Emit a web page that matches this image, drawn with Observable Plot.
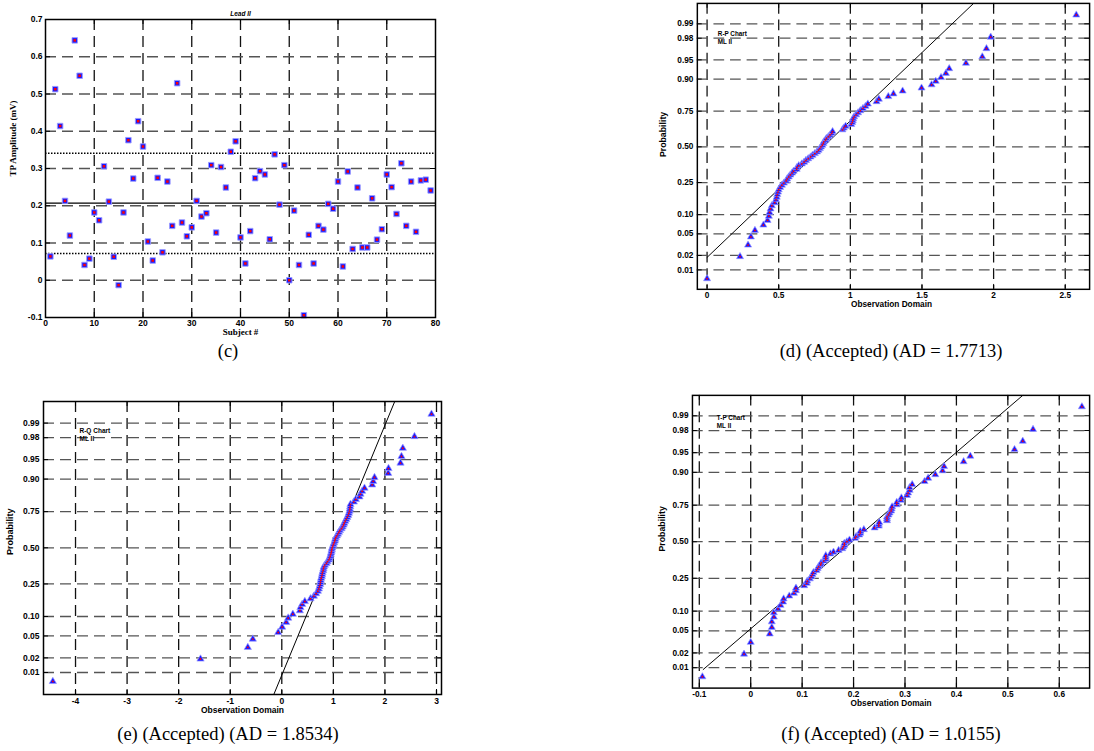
<!DOCTYPE html>
<html><head><meta charset="utf-8">
<script src="https://cdn.jsdelivr.net/npm/d3@7"></script>
<script src="https://cdn.jsdelivr.net/npm/@observablehq/plot@0.6"></script>
<style>
html,body{margin:0;padding:0;background:#fff;overflow:hidden;width:1094px;height:751px}
#root{position:relative;width:1094px;height:751px;overflow:hidden}
.panel{position:absolute}
.cap{position:absolute;font-family:"Liberation Serif","Times New Roman",serif;font-size:18.5px;line-height:19px;color:#000;white-space:nowrap;transform:translateX(-50%)}
</style></head><body><div id="root"></div>
<script>
// ---------- DATA ----------
// Panel (c): T-P amplitude per subject (Lead II)
const subjects = [1,2,3,4,5,6,7,8,9,10,11,12,13,14,15,16,17,18,19,20,21,22,23,24,25,26,27,28,29,30,31,32,33,34,35,36,37,38,39,40,41,42,43,44,45,46,47,48,49,50,51,52,53,54,55,56,57,58,59,60,61,62,63,64,65,66,67,68,69,70,71,72,73,74,75,76,77,78,79];
const tpAmplitude = [0.064,0.513,0.414,0.213,0.120,0.644,0.549,0.041,0.058,0.182,0.161,0.306,0.211,0.063,-0.013,0.182,0.376,0.273,0.427,0.359,0.104,0.053,0.275,0.075,0.265,0.146,0.529,0.155,0.118,0.142,0.213,0.171,0.180,0.309,0.128,0.304,0.249,0.345,0.373,0.115,0.045,0.132,0.274,0.293,0.284,0.110,0.338,0.203,0.309,0.000,0.187,0.041,-0.094,0.122,0.045,0.146,0.136,0.205,0.192,0.265,0.037,0.292,0.084,0.249,0.088,0.088,0.220,0.109,0.137,0.284,0.250,0.178,0.314,0.146,0.265,0.130,0.268,0.270,0.241];
const tpMean = [0.207];
const tpLimits = [0.341, 0.072];
const cXTicks = [0,10,20,30,40,50,60,70,80];
const cYTicks = [-0.1,0,0.1,0.2,0.3,0.4,0.5,0.6,0.7];
const cXGrid = [10,20,30,40,50,60,70];
const cYGrid = [0,0.1,0.2,0.3,0.4,0.5,0.6];

// Panel (d): R-P observations (sorted)
const rpObs = [0.000,0.230,0.286,0.306,0.334,0.393,0.422,0.431,0.436,0.443,0.452,0.472,0.481,0.486,0.490,0.495,0.500,0.510,0.522,0.536,0.552,0.559,0.570,0.581,0.593,0.604,0.625,0.627,0.640,0.661,0.677,0.690,0.706,0.722,0.736,0.752,0.767,0.778,0.787,0.795,0.804,0.811,0.815,0.827,0.833,0.847,0.858,0.870,0.876,0.945,0.954,0.967,1.006,1.013,1.017,1.020,1.026,1.040,1.054,1.070,1.088,1.106,1.122,1.183,1.199,1.265,1.301,1.365,1.497,1.567,1.596,1.633,1.667,1.690,1.807,1.921,1.950,1.980,2.577];
const rpLine = [{x:0, z:-2.09},{x:1.86, z:2.712}];
const dXTicks = [0,0.5,1,1.5,2,2.5];

// Panel (e): R-Q observations (sorted)
const rqObs = [-4.44,-1.576,-0.659,-0.562,-0.070,0.007,0.085,0.124,0.214,0.350,0.362,0.395,0.447,0.557,0.621,0.666,0.699,0.718,0.731,0.744,0.750,0.757,0.763,0.776,0.782,0.789,0.802,0.808,0.815,0.834,0.867,0.886,0.912,0.925,0.938,0.947,0.957,0.964,0.970,0.977,0.990,1.002,1.015,1.028,1.035,1.048,1.067,1.087,1.107,1.126,1.158,1.178,1.197,1.210,1.229,1.249,1.268,1.287,1.300,1.313,1.320,1.326,1.332,1.397,1.436,1.506,1.526,1.558,1.604,1.752,1.772,1.798,2.063,2.069,2.302,2.321,2.347,2.573,2.903];
const rqLine = [{x:-0.155, z:-2.737},{x:2.19, z:2.729}];
const eXTicks = [-4,-3,-2,-1,0,1,2,3];

// Panel (f): T-P observations = tpAmplitude
const tpLine = [{x:-0.0924, z:-2.36},{x:0.529, z:2.703}];
const fXTicks = [-0.1,0,0.1,0.2,0.3,0.4,0.5,0.6];

// Probability axis
const probTickValues = [0.01,0.02,0.05,0.10,0.25,0.50,0.75,0.90,0.95,0.98,0.99];
const probTickLabels = ["0.01","0.02","0.05","0.10","0.25","0.50","0.75","0.90","0.95","0.98","0.99"];

// ---------- HELPERS ----------
function probit(p){
  const a=[-3.969683028665376e+01,2.209460984245205e+02,-2.759285104469687e+02,1.383577518672690e+02,-3.066479806614716e+01,2.506628277459239e+00];
  const b=[-5.447609879822406e+01,1.615858368580409e+02,-1.556989798598866e+02,6.680131188771972e+01,-1.328068155288572e+01];
  const c=[-7.784894002430293e-03,-3.223964580411365e-01,-2.400758277161838e+00,-2.549732539343734e+00,4.374664141464968e+00,2.938163982698783e+00];
  const d=[7.784695709041462e-03,3.224671290700398e-01,2.445134137142996e+00,3.754408661907416e+00];
  const pl=0.02425, ph=1-pl; let q,r;
  if(p<pl){q=Math.sqrt(-2*Math.log(p));return (((((c[0]*q+c[1])*q+c[2])*q+c[3])*q+c[4])*q+c[5])/((((d[0]*q+d[1])*q+d[2])*q+d[3])*q+1);}
  if(p>ph){q=Math.sqrt(-2*Math.log(1-p));return -(((((c[0]*q+c[1])*q+c[2])*q+c[3])*q+c[4])*q+c[5])/((((d[0]*q+d[1])*q+d[2])*q+d[3])*q+1);}
  q=p-0.5;r=q*q;return (((((a[0]*r+a[1])*r+a[2])*r+a[3])*r+a[4])*r+a[5])*q/(((((b[0]*r+b[1])*r+b[2])*r+b[3])*r+b[4])*r+1);
}
const probZ = probTickValues.map(probit);
const zLabel = new Map(probZ.map((z,i)=>[z, probTickLabels[i]]));
function normPoints(values){
  const s = d3.sort(values); const n = s.length;
  return s.map((v,i)=>({x:v, z:probit((i+0.5)/n)}));
}
const SANS = "'Liberation Sans', Arial, Helvetica, sans-serif";
const SERIF = "'Liberation Serif', 'Times New Roman', serif";
const BLUE = "#1a1aff", HALO = "#9c9cff", RED = "#ff0000";

function inwardTicks(xt, yt, fw, fh, len){
  return [
    Plot.tickX(xt, {x:d=>d, insetTop: fh-len, stroke:"#000", strokeWidth:1}),
    Plot.tickX(xt, {x:d=>d, insetBottom: fh-len, stroke:"#000", strokeWidth:1}),
    Plot.tickY(yt, {y:d=>d, insetRight: fw-len, stroke:"#000", strokeWidth:1}),
    Plot.tickY(yt, {y:d=>d, insetLeft: fw-len, stroke:"#000", strokeWidth:1})
  ];
}
function place(el, left, top){
  const div = document.createElement("div");
  div.className = "panel"; div.style.left = left+"px"; div.style.top = top+"px";
  div.appendChild(el); document.getElementById("root").appendChild(div);
}
function caption(text, cx, cy){
  const div = document.createElement("div");
  div.className = "cap"; div.textContent = text;
  div.style.left = cx+"px"; div.style.top = (cy-9.5)+"px";
  document.getElementById("root").appendChild(div);
}
const DASH = "11,6";

// ---------- PANEL (c) ----------
{
  const W=450,H=345,mL=45,mT=19,mR=15,mB=28;
  const data = subjects.map((s,i)=>({subject:s, amp:tpAmplitude[i]}));
  const chart = Plot.plot({
    width:W, height:H, marginLeft:mL, marginTop:mT, marginRight:mR, marginBottom:mB,
    style:{fontFamily:SANS, fontSize:"8.5px", fontWeight:"bold", background:"#fff", color:"#000", overflow:"visible"},
    x:{domain:[0,80], ticks:cXTicks, tickSize:0, tickPadding:2, tickFormat:d=>String(d), label:null},
    y:{domain:[-0.1,0.7], ticks:cYTicks, tickSize:0, tickPadding:3, tickFormat:d=>String(d), label:null},
    marks:[
      Plot.ruleX(cXGrid, {x:d=>d, stroke:"#111", strokeWidth:1.3, strokeDasharray:DASH}),
      Plot.ruleY(cYGrid, {y:d=>d, stroke:"#555", strokeWidth:1.3, strokeDasharray:DASH}),
      ...inwardTicks(cXTicks, cYTicks, W-mL-mR, H-mT-mB, 5),
      Plot.ruleY(tpMean, {y:d=>d, stroke:"#000", strokeWidth:1.2}),
      Plot.ruleY(tpLimits, {y:d=>d, stroke:"#000", strokeWidth:1.5, strokeDasharray:"1.5,1.5"}),
      Plot.dot(data, {x:"subject", y:"amp", symbol:"square", r:3.1, fill:BLUE, stroke:HALO, strokeWidth:0.9}),
      Plot.dot(data, {x:"subject", y:"amp", symbol:"square", r:1.4, fill:RED, stroke:"none"}),
      Plot.frame({stroke:"#000", strokeWidth:1.5}),
      Plot.text(["Lead II"], {frameAnchor:"top", dy:-8, text:d=>d, fontSize:6.5, fontStyle:"italic", fontWeight:"bold"}),
      Plot.text(["Subject #"], {frameAnchor:"bottom", dy:17, text:d=>d, fontSize:9, fontFamily:SERIF, fontWeight:"bold"}),
      Plot.text(["TP Amplitude (mV)"], {frameAnchor:"left", dx:-32, dy:8, rotate:-90, text:d=>d, fontSize:9, fontFamily:SERIF, fontWeight:"bold"})
    ]
  });
  place(chart, 0, 0);
  caption("(c)", 228, 351);
}

// ---------- PROBABILITY PANELS ----------
function probPanel(cfg){
  const {W,H,mL,mT,mR,mB,obs,line,xTicks,xDomain,yDomain,legend,legendDx,legendDy,xLabelDx,yLabelDx,yLabelDy} = cfg;
  const pts = normPoints(obs);
  return Plot.plot({
    width:W, height:H, marginLeft:mL, marginTop:mT, marginRight:mR, marginBottom:mB,
    style:{fontFamily:SANS, fontSize:"8.5px", fontWeight:"bold", background:"#fff", color:"#000"},
    x:{domain:xDomain, ticks:xTicks, tickSize:0, tickPadding:3, tickFormat:d=>String(d), label:null},
    y:{domain:yDomain, ticks:probZ, tickSize:0, tickPadding:4, tickFormat:z=>zLabel.get(z) ?? "", label:null},
    marks:[
      Plot.ruleX(xTicks, {x:d=>d, stroke:"#111", strokeWidth:1.3, strokeDasharray:DASH}),
      Plot.ruleY(probZ, {y:d=>d, stroke:"#555", strokeWidth:1.3, strokeDasharray:DASH}),
      ...inwardTicks(xTicks, probZ, W-mL-mR, H-mT-mB, 5),
      Plot.line(line, {x:"x", y:"z", stroke:"#000", strokeWidth:1}),
      Plot.dot(pts, {x:"x", y:"z", symbol:"triangle", r:2.7, fill:BLUE, stroke:HALO, strokeWidth:0.7}),
      Plot.dot(pts, {x:"x", y:"z", r:0.9, fill:RED, stroke:"none"}),
      Plot.frame({stroke:"#000", strokeWidth:1.5}),
      Plot.text([legend], {frameAnchor:"top-left", dx:legendDx, dy:legendDy, text:d=>d, textAnchor:"start", fontSize:6.5}),
      Plot.text(["ML II"], {frameAnchor:"top-left", dx:legendDx, dy:legendDy+8, text:d=>d, textAnchor:"start", fontSize:6.5}),
      Plot.text(["Observation Domain"], {frameAnchor:"bottom", dx:xLabelDx, dy:18.5, text:d=>d, fontSize:8.5}),
      Plot.text(["Probability"], {frameAnchor:"left", dx:yLabelDx, dy:yLabelDy, rotate:-90, text:d=>d, fontSize:9})
    ]
  });
}

// (d)
place(probPanel({W:455,H:320,mL:48,mT:3,mR:5,mB:24, obs:rpObs, line:rpLine, xTicks:dXTicks,
  xDomain:[-0.068,2.670], yDomain:[-2.694,2.712], legend:"R-P Chart", legendDx:21, legendDy:29,
  xLabelDx:-2, yLabelDx:-35, yLabelDy:11}), 650, 0);
caption("(d) (Accepted) (AD = 1.7713)", 891, 351);

// (e)
place(probPanel({W:450,H:330,mL:43,mT:11,mR:9,mB:26, obs:rqObs, line:rqLine, xTicks:eXTicks,
  xDomain:[-4.621,3.097], yDomain:[-2.737,2.729], legend:"R-Q Chart", legendDx:36, legendDy:27,
  xLabelDx:0, yLabelDx:-33, yLabelDy:7}), 0, 390);
caption("(e) (Accepted) (AD = 1.8534)", 228, 734);

// (f)
place(probPanel({W:455,H:330,mL:43,mT:5,mR:5,mB:25, obs:tpAmplitude, line:tpLine, xTicks:fXTicks,
  xDomain:[-0.1133,0.659], yDomain:[-2.703,2.703], legend:"T-P Chart", legendDx:25, legendDy:21,
  xLabelDx:0, yLabelDx:-31, yLabelDy:10}), 650, 390);
caption("(f) (Accepted) (AD = 1.0155)", 891, 734);
</script></body></html>
